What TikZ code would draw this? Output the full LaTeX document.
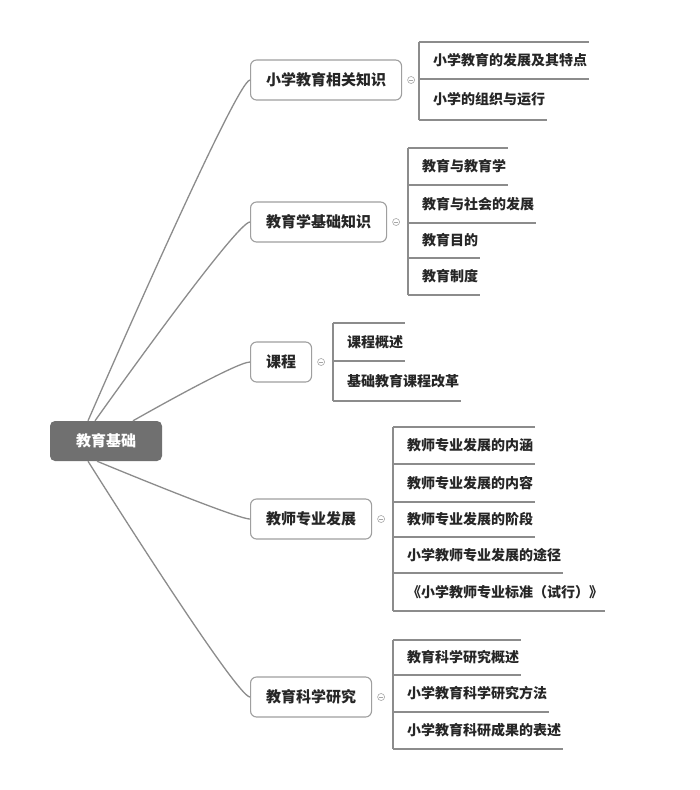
\documentclass[tikz,border=0pt]{standalone}
\usepackage{fontspec}
\newfontfamily\cjk{Noto Sans CJK SC}
\usetikzlibrary{positioning}
\definecolor{linegray}{HTML}{8C8C8C}
\definecolor{rootgray}{HTML}{707070}
\newcommand{\leaffont}{\cjk\bfseries\fontsize{14}{16}\selectfont}
\newcommand{\topicfont}{\cjk\bfseries\fontsize{15}{17}\selectfont}

\begin{document}
\begin{tikzpicture}[x=1pt, y=-1pt,
    root/.style={rounded corners=5pt, fill=rootgray, text=white,
      minimum width=112pt, minimum height=40pt, font=\topicfont},
    topic/.style={draw=gray!75, line width=1.1pt, rounded corners=6pt, fill=white,
      anchor=west, minimum height=40pt, inner xsep=15.5pt, font=\topicfont, text=black!85},
    leaf/.style={anchor=west, inner xsep=2pt, inner ysep=0pt, font=\leaffont, text=black!85},
    rule/.style={linegray, line width=1.3pt},
    branch/.style={linegray, line width=1.3pt},
    fold/.style={circle, draw=gray!70, line width=0.6pt, minimum size=7pt, inner sep=0pt,
      path picture={\draw[gray!70, line width=0.6pt]
        ([xshift=1.6pt]path picture bounding box.west) --
        ([xshift=-1.6pt]path picture bounding box.east);}}]
    % canvas, same size as the picture
    \fill[white] (0,0) rectangle (700,790);

    % --- centre and the five topics ---
    \node[root] (root) at (106,441) {教育基础};
    \node[topic] (b1) at (250,80)  {小学教育相关知识};
    \node[topic] (b2) at (250,222) {教育学基础知识};
    \node[topic] (b3) at (250,362) {课程};
    \node[topic] (b4) at (250,519) {教师专业发展};
    \node[topic] (b5) at (250,697) {教育科学研究};
    \foreach \b in {b1,b2,b3,b4,b5}
      \node[fold] (f-\b) at ([xshift=9pt]\b.east) {};

    % --- branches, straight and bending flat into each topic ---
    \draw[branch] ([xshift=-18pt]root.north) .. controls +(0,0) and +(-14,0) .. (b1.west);
    \draw[branch] ([xshift=-11pt]root.north) .. controls +(0,0) and +(-14,0) .. (b2.west);
    \draw[branch] ([xshift=27pt]root.north)  .. controls +(0,0) and +(-14,0) .. (b3.west);
    \draw[branch] ([xshift=-9pt]root.south)  .. controls +(0,0) and +(-14,0) .. (b4.west);
    \draw[branch] ([xshift=-18pt]root.south) .. controls +(0,0) and +(-14,0) .. (b5.west);

    % --- subtopics: underlined rows behind a bracket ---
    \foreach \txt/\ya/\yb [count=\i] in {小学教育的发展及其特点/42/79, 小学的组织与运行/79/120} {
      \node[leaf] (g1-\i) at (431,{(\ya+\yb)/2}) {\txt};
      \draw[rule] (419,\yb) -- (g1-\i.east |- 0,\yb);
    }
    \draw[rule] (419,42) -- (g1-1.east |- 0,42);
    \draw[rule] (419,42) -- (419,120);

    \foreach \txt/\ya/\yb [count=\i] in {教育与教育学/148/185, 教育与社会的发展/185/223,
        教育目的/223/258, 教育制度/258/295} {
      \node[leaf] (g2-\i) at (420,{(\ya+\yb)/2}) {\txt};
      \draw[rule] (408,\yb) -- (g2-\i.east |- 0,\yb);
    }
    \draw[rule] (408,148) -- (g2-1.east |- 0,148);
    \draw[rule] (408,148) -- (408,295);

    \foreach \txt/\ya/\yb [count=\i] in {课程概述/323/361, 基础教育课程改革/361/401} {
      \node[leaf] (g3-\i) at (345,{(\ya+\yb)/2}) {\txt};
      \draw[rule] (333,\yb) -- (g3-\i.east |- 0,\yb);
    }
    \draw[rule] (333,323) -- (g3-1.east |- 0,323);
    \draw[rule] (333,323) -- (333,401);

    \foreach \txt/\ya/\yb [count=\i] in {教师专业发展的内涵/427/464, 教师专业发展的内容/464/502,
        教师专业发展的阶段/502/537, 小学教师专业发展的途径/537/573,
        《小学教师专业标准（试行）》/573/611} {
      \node[leaf] (g4-\i) at (405,{(\ya+\yb)/2}) {\txt};
      \draw[rule] (393,\yb) -- (g4-\i.east |- 0,\yb);
    }
    \draw[rule] (393,427) -- (g4-1.east |- 0,427);
    \draw[rule] (393,427) -- (393,611);

    \foreach \txt/\ya/\yb [count=\i] in {教育科学研究概述/640/675, 小学教育科学研究方法/675/712,
        小学教育科研成果的表述/712/749} {
      \node[leaf] (g5-\i) at (405,{(\ya+\yb)/2}) {\txt};
      \draw[rule] (393,\yb) -- (g5-\i.east |- 0,\yb);
    }
    \draw[rule] (393,640) -- (g5-1.east |- 0,640);
    \draw[rule] (393,640) -- (393,749);
\end{tikzpicture}
\end{document}
